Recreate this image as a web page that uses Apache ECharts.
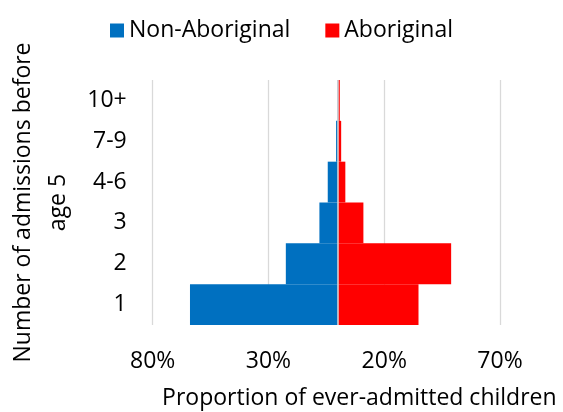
<!DOCTYPE html>
<html>
<head>
<meta charset="utf-8">
<script src="https://cdn.jsdelivr.net/npm/echarts@6/dist/echarts.min.js"></script>
<style>
html,body{margin:0;padding:0;background:#fff;}
#chart{width:563px;height:412px;}
</style>
</head>
<body>
<div id="chart"></div>
<script>
const categories = ['1', '2', '3', '4-6', '7-9', '10+'];
const nonAboriginal = [63.9, 22.5, 8.0, 4.4, 0.8, 0.2];
const aboriginal = [34.8, 48.9, 11.0, 3.2, 1.4, 0.8];
const xTicks = [-80, -30, 20, 70];
const seriesNames = ['Non-Aboriginal', 'Aboriginal'];

const FONT = '"Open Sans", sans-serif';
const FS = 23;
const chart = echarts.init(document.getElementById('chart'), null, {renderer: 'canvas'});
chart.setOption({
  animation: false,
  textStyle: {fontFamily: FONT, color: '#000'},
  legend: {
    top: 14, left: 'center',
    icon: 'rect', itemWidth: 14, itemHeight: 14, itemGap: 35, itemTextGap: 8,
    textStyle: {fontFamily: FONT, fontSize: FS, color: '#000'},
    data: seriesNames
  },
  grid: {left: 152.7, right: 63, top: 80, bottom: 87, containLabel: false, outerBoundsMode: 'none'},
  xAxis: {
    type: 'value', min: -80, max: 70,
    axisLine: {show: false},
    axisTick: {show: false, customValues: xTicks},
    splitLine: {show: true, lineStyle: {color: '#d9d9d9', width: 1.3}},
    axisLabel: {
      customValues: xTicks, margin: 25,
      fontFamily: FONT, fontSize: FS, color: '#000',
      formatter: v => Math.abs(v) + '%'
    },
    name: 'Proportion of ever-admitted children',
    nameLocation: 'middle', nameGap: 62,
    nameTextStyle: {fontFamily: FONT, fontSize: FS, color: '#000', padding: [0, 0, 0, 66]}
  },
  yAxis: {
    type: 'category', data: categories,
    axisLine: {show: false}, axisTick: {show: false},
    axisLabel: {margin: 26, fontFamily: FONT, fontSize: FS, color: '#000'},
    name: 'Number of admissions before\nage 5',
    nameLocation: 'middle', nameRotate: 90, nameGap: 77,
    nameTextStyle: {fontFamily: FONT, fontSize: FS, color: '#000', lineHeight: 35, align: 'center'}
  },
  series: [
    {
      name: seriesNames[0], type: 'bar',
      barGap: '-100%', barCategoryGap: '0%',
      itemStyle: {color: '#0070C0'},
      data: nonAboriginal.map(v => -v)
    },
    {
      name: seriesNames[1], type: 'bar',
      barGap: '-100%', barCategoryGap: '0%',
      itemStyle: {color: '#FF0000'},
      data: aboriginal,
      markLine: {
        silent: true, symbol: 'none', label: {show: false},
        lineStyle: {color: '#d9d9d9', width: 1.5, type: 'solid'},
        data: [{xAxis: 0}]
      }
    }
  ]
});
</script>
</body>
</html>
